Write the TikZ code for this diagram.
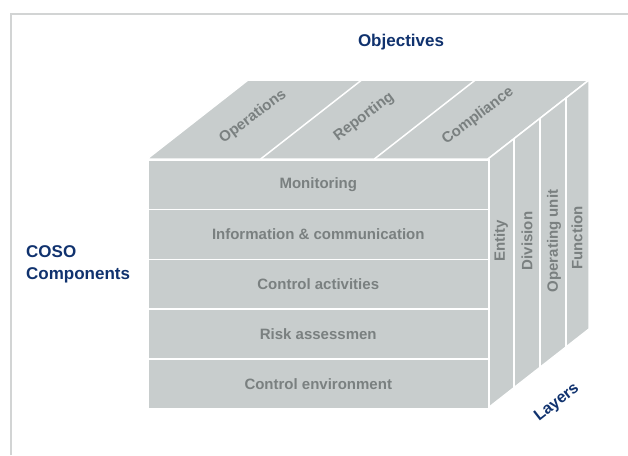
\documentclass[tikz,border=0pt]{standalone}
\usepackage{fontspec}
\setmainfont{Liberation Sans}
\usetikzlibrary{calc}
\definecolor{facegray}{RGB}{200,205,205}
\definecolor{txtgray}{RGB}{122,128,128}
\definecolor{navy}{RGB}{16,50,110}
\definecolor{framegray}{RGB}{210,212,212}
\tikzset{
  face/.style={fill=facegray,draw=white,line width=1.5pt,line join=miter},
  rowbox/.style={face,minimum width=341pt,minimum height=49.8pt,inner sep=0pt,anchor=north west,
    font=\fontsize{15}{18}\selectfont\bfseries,text=txtgray},
  graylbl/.style={font=\fontsize{15}{18}\selectfont\bfseries,text=txtgray,inner sep=0pt},
  navylbl/.style={font=\fontsize{17}{22}\selectfont\bfseries,text=navy,inner sep=0pt},
  divline/.style={draw=white,line width=1.5pt},
}
\begin{document}
\begin{tikzpicture}[x=1pt,y=-1pt]
\useasboundingbox (0,0) rectangle (628,455);
% frame
\draw[framegray,line width=1.5pt] (11,455) -- (11,14) -- (628,14);
% cube corners
\coordinate (FTL) at (147,159);
\coordinate (FTR) at (488,159);
\coordinate (FBR) at (488,408);
\coordinate (BTL) at (248,80);
\coordinate (BTR) at (589,80);
\coordinate (BBR) at (589,329);
% top face
\path[face] (FTL) -- (FTR) -- (BTR) -- (BTL) -- cycle;
\draw[divline] ($(FTL)!1/3!(FTR)$) -- ($(BTL)!1/3!(BTR)$);
\draw[divline] ($(FTL)!2/3!(FTR)$) -- ($(BTL)!2/3!(BTR)$);
% right face
\path[face] (FTR) -- (BTR) -- (BBR) -- (FBR) -- cycle;
\draw[divline] ($(FTR)!0.257!(BTR)$) -- ($(FBR)!0.257!(BBR)$);
\draw[divline] ($(FTR)!0.515!(BTR)$) -- ($(FBR)!0.515!(BBR)$);
\draw[divline] ($(FTR)!0.772!(BTR)$) -- ($(FBR)!0.772!(BBR)$);
% front rows
\node[rowbox] (mon) at (147,159) {Monitoring};
\node[rowbox] (inf) at (147,208.8) {Information \& communication};
\node[rowbox] (act) at (147,258.6) {Control activities};
\node[rowbox] (risk) at (147,308.4) {Risk assessmen};
\node[rowbox] (env) at (147,358.2) {Control environment};
% objectives labels
\node[graylbl,rotate=37] (ops) at (253,117) {Operations};
\node[graylbl,rotate=37] (rep) at (364,117) {Reporting};
\node[graylbl,rotate=37] (comp) at (478,116) {Compliance};
% layer labels
\node[graylbl,rotate=90] (ent) at (501,241) {Entity};
\node[graylbl,rotate=90] (div) at (527,241) {Division};
\node[graylbl,rotate=90] (opu) at (554,241) {Operating unit};
\node[graylbl,rotate=90] (fun) at (577,238) {Function};
% titles
\node[navylbl] (obj) at (401,42) {Objectives};
\node[navylbl,align=left,anchor=west] (coso) at (26,264) {COSO\\Components};
\node[navylbl,rotate=38,font=\fontsize{16}{20}\selectfont\bfseries] (lay) at (557,403) {Layers};
\end{tikzpicture}
\end{document}
